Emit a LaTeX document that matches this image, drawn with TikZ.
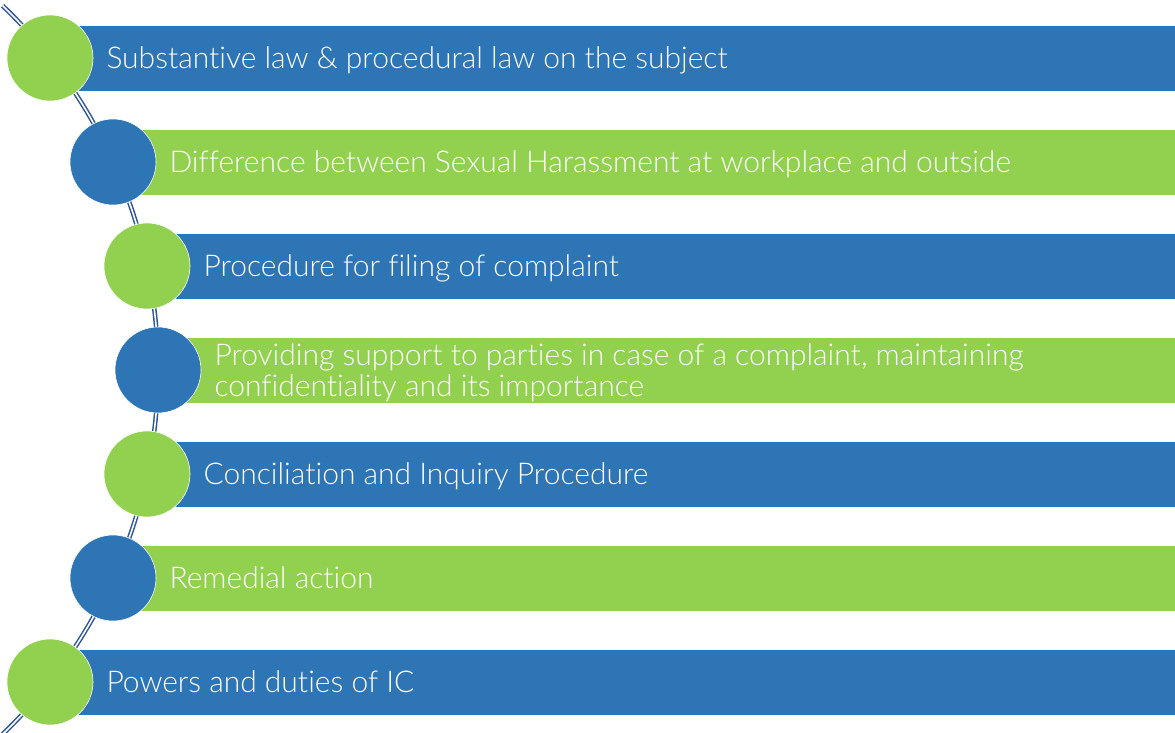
\documentclass[tikz,border=0pt]{standalone}
\usepackage{fontspec}
\setmainfont{Lato}[UprightFont=* Light, Ligatures=NoCommon]
\usetikzlibrary{positioning}
\definecolor{barblue}{HTML}{2E75B6}
\definecolor{bargreen}{HTML}{92D050}
\definecolor{linkblue}{HTML}{2F5597}
\tikzstyle{bluebar} = [rectangle, anchor=west, minimum height=66pt, inner sep=0pt, fill=barblue, draw=white, line width=0.6pt]
\tikzstyle{greenbar} = [bluebar, fill=bargreen]
\tikzstyle{bluedot} = [circle, minimum size=86pt, inner sep=0pt, fill=barblue, draw=white, line width=0.6pt]
\tikzstyle{greendot} = [bluedot, fill=bargreen]
\tikzstyle{itemtext} = [text=white, font=\fontsize{30}{31}\selectfont, align=left, inner sep=0pt, text height=21.5pt, text depth=0pt]
\tikzstyle{link} = [draw=linkblue, line width=1.5pt, double=white, double distance=1.6pt]

\begin{document}
\begin{tikzpicture}[x=1pt, y=1pt, node distance=13pt]
\useasboundingbox (0,0) rectangle (1175,733);

% the bent line behind the dots
\coordinate (top) at (2.6,727.3);
\draw [link] (top) arc[start angle=46.2, end angle=-46.2, radius=504.7];

\node (lawbar) [bluebar, minimum width=1125pt] at (50,675) {};
\node (diffbar) [greenbar, minimum width=1062pt] at (113,571) {};
\node (filingbar) [bluebar, minimum width=1028pt] at (147,467) {};
\node (supportbar) [greenbar, minimum width=1017pt] at (158,363) {};
\node (inquirybar) [bluebar, minimum width=1028pt] at (147,259) {};
\node (remedybar) [greenbar, minimum width=1062pt] at (113,155) {};
\node (powersbar) [bluebar, minimum width=1125pt] at (50,51) {};

\node (law) [greendot] at (50,675) {};
\node (diff) [bluedot] at (113,571) {};
\node (filing) [greendot] at (147,467) {};
\node (support) [bluedot] at (158,363) {};
\node (inquiry) [greendot] at (147,259) {};
\node (remedy) [bluedot] at (113,155) {};
\node (powers) [greendot] at (50,51) {};

\node (lawtext) [itemtext, right=of law] {Substantive law \& procedural law on the subject};
\node (difftext) [itemtext, right=of diff] {Difference between Sexual Harassment at workplace and outside};
\node (filingtext) [itemtext, right=of filing] {Procedure for filing of complaint};
\node (supporttext) [itemtext, right=of support, text height=52.5pt] {Providing support to parties in case of a complaint, maintaining\\confidentiality and its importance};
\node (inquirytext) [itemtext, right=of inquiry] {Conciliation and Inquiry Procedure};
\node (remedytext) [itemtext, right=of remedy] {Remedial action};
\node (powerstext) [itemtext, right=of powers] {Powers and duties of IC};

\end{tikzpicture}
\end{document}
